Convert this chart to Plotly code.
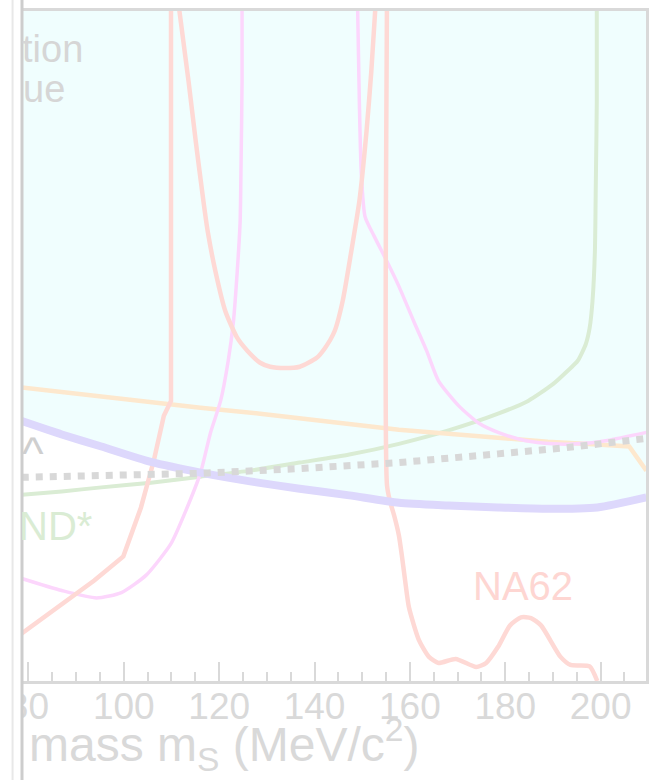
import plotly.graph_objects as go

# ---------------- data ----------------
# x: scalar mass m_S (MeV/c^2); y: unitless vertical level (0 = bottom frame, 100 = top frame)
x_range = [78.65, 209.52]
y_range = [0, 100]

purple_m = [78.6, 87.0, 95.3, 105.7, 116.1, 126.5, 136.9, 147.3, 157.7, 168.1, 178.5, 188.9, 199.3, 209.6]
purple_y = [38.8, 36.8, 35.0, 32.7, 31.1, 29.8, 28.7, 27.7, 26.6, 26.2, 25.9, 25.7, 25.9, 27.4]

dotted_m = [78.6, 95.3, 116.1, 136.9, 157.7, 178.5, 192.5, 209.6]
dotted_y = [30.4, 30.6, 31.0, 31.7, 32.6, 33.9, 34.8, 36.2]

green_m = [78.6, 87.0, 95.3, 105.7, 116.1, 126.5, 136.9, 147.3, 157.7, 168.1, 178.5, 184.8,
           190.0, 193.1, 195.2, 196.9, 197.7, 198.3, 198.8, 199.0, 199.2, 199.2]
green_y = [27.8, 28.3, 28.9, 29.6, 30.5, 31.4, 32.6, 33.8, 35.4, 37.4, 39.9, 41.8,
           44.3, 46.3, 47.8, 50.3, 52.7, 56.7, 64.1, 74.6, 86.5, 102.0]

orange_m = [78.6, 95.3, 107.8, 116.1, 128.6, 149.4, 157.7, 168.1, 178.5, 188.9, 199.3, 206.0, 209.6]
orange_y = [43.8, 42.4, 41.4, 40.8, 39.9, 38.1, 37.5, 36.9, 36.3, 35.7, 35.3, 35.0, 31.4]

pinkA_m = [78.6, 87.0, 94.3, 99.5, 104.7, 109.9, 113.0, 116.1, 118.2, 120.3, 121.9, 123.0,
           123.8, 124.4, 124.6, 124.8, 124.8]
pinkA_y = [15.3, 13.5, 12.4, 13.2, 15.8, 20.5, 25.4, 31.1, 37.1, 41.8, 47.8, 53.7,
           61.2, 68.6, 77.5, 89.4, 102.0]

pinkB_m = [149.0, 149.4, 149.8, 150.6, 152.5, 155.2, 157.7, 160.8, 163.5, 166.0, 170.2,
           174.4, 178.5, 184.1, 190.0, 195.2, 201.4, 209.6]
pinkB_y = [102.0, 86.5, 76.0, 69.3, 66.4, 62.6, 58.9, 53.7, 49.3, 44.8, 41.1,
           38.5, 37.1, 35.9, 35.4, 35.4, 35.9, 37.1]

red1_m = [78.6, 93.8, 99.9, 103.6, 106.3, 108.4, 109.9, 109.9]
red1_y = [7.1, 15.0, 18.6, 25.9, 32.9, 39.6, 41.8, 102.0]

red2_m = [111.3, 113.6, 115.1, 116.7, 117.6, 119.2, 121.3, 123.8, 125.9, 128.6, 130.7, 133.8,
          136.9, 140.4, 142.1, 144.2, 145.9, 147.7, 149.4, 150.9, 151.9, 152.9]
red2_y = [102.0, 89.4, 80.5, 71.6, 67.1, 61.2, 55.2, 51.2, 49.3, 47.5, 46.9, 46.7,
          46.9, 48.2, 49.6, 52.2, 56.7, 64.1, 71.6, 82.0, 90.9, 102.0]

red3_m = [155.2, 155.2, 155.8, 156.7, 157.7, 158.3, 159.0, 159.8, 161.9, 164.0, 166.0, 169.6,
          173.9, 176.0, 178.5, 181.0, 183.3, 185.4, 187.5, 191.6, 193.7, 197.7, 199.3]
red3_y = [102.0, 29.2, 26.9, 24.7, 21.7, 18.8, 15.0, 11.0, 6.1, 3.6, 2.7, 3.3,
          2.1, 2.7, 5.1, 8.3, 9.5, 9.4, 8.3, 3.6, 2.4, 2.2, 0.0]

x_ticks = [80, 100, 120, 140, 160, 180, 200]
x_title = "mass m<sub>S</sub> (MeV/c<sup>2</sup>)"

# ---------------- styles ----------------
FONT = "Liberation Sans, Arial, sans-serif"
GRAY_TXT = "#d9d9d9"
FRAME = "#d9d9d9"
CYAN = "#f0fefe"
PURPLE = "#ddd8fc"
DOTS = "#d8d8d8"
GREEN = "#daecd4"
ORANGE = "#fde8ce"
PINK = "#fcd6fc"
RED = "#fed9d5"

fig = go.Figure()

# excluded (cyan) region above the purple curve
fig.add_trace(go.Scatter(
    x=purple_m + [purple_m[-1], purple_m[0]],
    y=purple_y + [101, 101],
    fill="toself", fillcolor=CYAN, mode="none", hoverinfo="skip"))

def line(xs, ys, color, width, dash="solid", smooth=False):
    ln = dict(color=color, width=width, dash=dash)
    if smooth:
        ln.update(shape="spline", smoothing=0.6)
    fig.add_trace(go.Scatter(x=xs, y=ys, mode="lines", line=ln, hoverinfo="skip"))

line(green_m, green_y, GREEN, 4, smooth=True)
line(orange_m, orange_y, ORANGE, 4.5)
line(pinkA_m, pinkA_y, PINK, 3.5, smooth=True)
line(pinkB_m, pinkB_y, PINK, 3.5, smooth=True)
line(red1_m, red1_y, RED, 4.5)
line(red2_m, red2_y, RED, 4.5, smooth=True)
line(red3_m, red3_y, RED, 4.5, smooth=True)
line(purple_m, purple_y, PURPLE, 8, smooth=True)
line(dotted_m, dotted_y, DOTS, 7, "dot")

W, H = 657, 780
L, R, T, B = 20, 8, 9, 99
PW, PH = W - L - R, H - T - B

def px(xpix):
    return (xpix - L) / PW

def py(ypix):
    return (H - B - ypix) / PH

fig.update_layout(
    width=W, height=H,
    margin=dict(l=L, r=R, t=T, b=B, pad=0),
    paper_bgcolor="white", plot_bgcolor="white",
    showlegend=False, hovermode=False,
    font=dict(family=FONT, color=GRAY_TXT),
    xaxis=dict(range=x_range, tickmode="array", tickvals=x_ticks,
               ticks="inside", ticklen=19, tickwidth=2, tickcolor=FRAME,
               ticklabelstandoff=-9,
               showline=True, linecolor=FRAME, linewidth=3, mirror=True,
               showgrid=False, zeroline=False,
               tickfont=dict(size=37, color=GRAY_TXT, family=FONT),
               minor=dict(dtick=5, tick0=80, ticks="inside", ticklen=9,
                          tickwidth=2, tickcolor=FRAME, showgrid=False)),
    yaxis=dict(range=y_range, showticklabels=False, ticks="",
               showline=True, linecolor=FRAME, linewidth=3, mirror=True,
               showgrid=False, zeroline=False),
)

# left page strip (cropped neighbour) drawn above the tick labels
fig.add_shape(type="rect", xref="paper", yref="paper",
              x0=px(-30), x1=px(21), y0=py(800), y1=py(-20),
              fillcolor="white", line=dict(width=0), layer="above")
fig.add_shape(type="line", xref="paper", yref="paper",
              x0=px(10.5), x1=px(10.5), y0=py(800), y1=py(-20),
              line=dict(color="#e8e8e8", width=2), layer="above")
fig.add_shape(type="line", xref="paper", yref="paper",
              x0=px(20), x1=px(20), y0=py(800), y1=py(-20),
              line=dict(color="#cdcdcd", width=3), layer="above")

def label(text, xpix, ypix, size, color, anchor="left"):
    fig.add_annotation(text=text, xref="paper", yref="paper",
                       x=px(xpix), y=py(ypix), xanchor=anchor, yanchor="middle",
                       showarrow=False, font=dict(size=size, color=color, family=FONT))

label("tion", 18, 47, 38, "#d6d6d6")
label("ue", 19, 87, 38, "#d6d6d6")
label("^", 18, 452, 46, "#cfcfcf")
label("ND*", 15, 526, 40, GREEN)
label("NA62", 525, 586, 40, "#fed6d2", anchor="center")
label(x_title, 25, 745, 48, GRAY_TXT)

fig.write_html("out.html", config={"displayModeBar": False})
